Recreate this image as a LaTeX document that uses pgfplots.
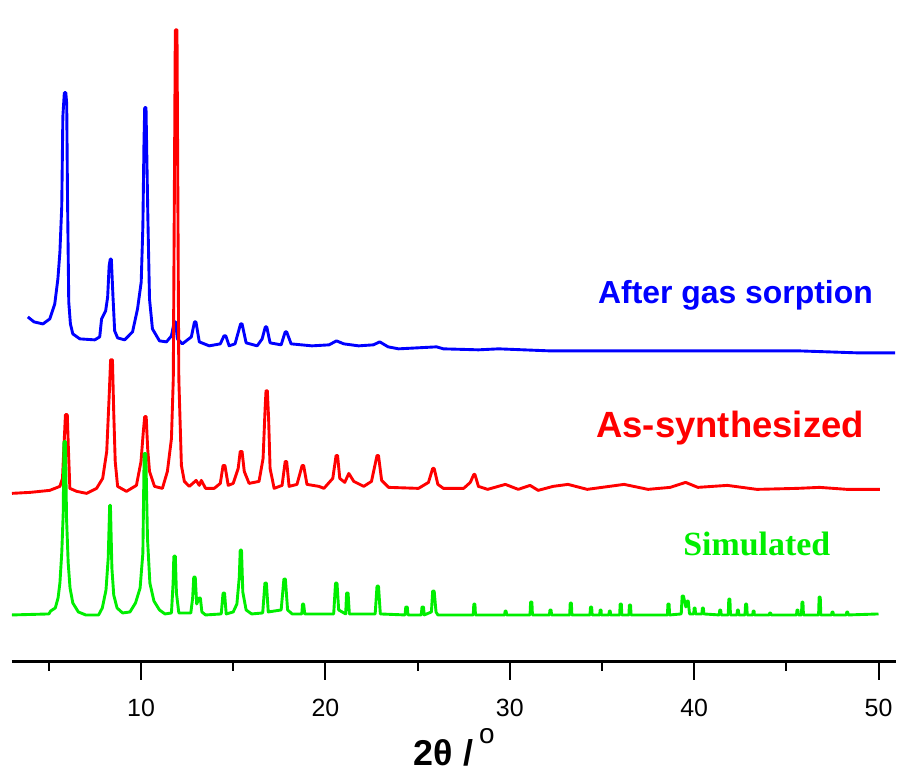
\documentclass[border=0pt]{standalone}
\usepackage{pgfplots}
\pgfplotsset{compat=1.18}
\usepackage{fontspec}
\setmainfont{Liberation Sans}
\newfontfamily\serifb{Liberation Serif}
\definecolor{cblue}{RGB}{0,0,255}
\definecolor{cred}{RGB}{255,0,0}
\definecolor{cgreen}{RGB}{0,238,0}
\begin{document}
\begin{tikzpicture}
\begin{axis}[
  scale only axis,
  width=443.5pt, height=332pt,
  xmin=3.0, xmax=50.95, ymin=0, ymax=664,
  axis x line=bottom, axis y line=none,
  axis line style={line width=1.3pt, -},
  x axis line style={-},
  xtick={10,20,30,40,50},
  minor xtick={5,15,25,35,45},
  tick align=outside,
  major tick length=9pt, minor tick length=4.5pt,
  every tick/.style={black, line width=1pt},
  tick style={black, line width=1pt},
  xticklabel style={font=\fontsize{12.5}{14}\selectfont, yshift=-6pt},
  /pgf/number format/assume math mode=true,
  clip=false,
  every axis plot/.append style={line width=1.45pt, line join=round},
]
% invisible bounding rectangle
\path (axis cs:2.351,-109) rectangle (axis cs:50.95,664);

% After gas sorption (blue)
\addplot[cblue, mark=none] coordinates {
(3.86,346) (4.2,341) (4.68,339) (5.05,344) (5.32,359) (5.49,384) (5.6,411) (5.7,457)
(5.76,547) (5.84,571) (5.92,571) (5.97,560) (6.01,471) (6.08,361) (6.17,339) (6.3,329)
(6.68,324) (7.49,323) (7.76,326) (7.86,344) (8.08,352) (8.19,366) (8.27,397) (8.33,404)
(8.39,404) (8.48,366) (8.57,332) (8.73,325) (9.11,323) (9.54,331) (9.81,354) (10.01,381)
(10.1,437) (10.16,521) (10.2,556) (10.27,556) (10.37,447) (10.46,364) (10.62,334) (11.0,322)
(11.38,321) (11.65,327) (11.8,341) (11.88,341) (11.97,324) (12.24,319) (12.73,326) (12.9,341)
(12.98,341) (13.16,321) (13.7,317) (14.3,319) (14.5,327) (14.6,327) (14.78,317) (15.1,319)
(15.4,339) (15.48,339) (15.7,320) (16.3,317) (16.57,324) (16.74,336) (16.82,336) (17.0,320)
(17.6,318) (17.82,331) (17.9,331) (18.14,319) (19.27,317) (20.2,318) (20.6,322) (21.0,319)
(21.8,317) (22.6,318) (22.95,321) (23.4,316) (23.97,314) (26.03,316) (26.4,314) (28.3,313)
(29.4,314) (32.1,312) (34.8,312) (40.2,312) (45.6,312) (48.8,310) (50.9,310)
};

% As-synthesized (red)
\addplot[cred, mark=none] coordinates {
(3.0,169) (4.0,170) (5.05,172) (5.6,176) (5.74,184) (5.84,224) (5.9,248) (6.0,248)
(6.06,214) (6.14,174) (6.51,171) (7.05,169) (7.59,174) (7.92,184) (8.14,211) (8.28,270)
(8.35,303) (8.45,303) (8.52,250) (8.6,201) (8.73,176) (9.21,171) (9.75,177) (10.0,201)
(10.12,230) (10.2,246) (10.28,246) (10.36,214) (10.46,191) (10.73,176) (11.16,174) (11.43,191)
(11.65,224) (11.75,284) (11.86,634) (11.95,634) (12.05,284) (12.19,197) (12.35,181) (12.62,176)
(12.99,182) (13.16,177) (13.27,182) (13.5,174) (13.97,174) (14.3,179) (14.45,197) (14.55,197)
(14.73,177) (15.0,179) (15.27,194) (15.38,211) (15.48,211) (15.6,191) (15.86,179) (16.4,181)
(16.62,204) (16.73,254) (16.78,272) (16.85,272) (16.92,244) (17.0,194) (17.22,174) (17.65,177)
(17.82,201) (17.9,201) (18.03,176) (18.46,178) (18.74,197) (18.82,197) (19.0,178) (19.65,176)
(19.92,174) (20.4,184) (20.58,207) (20.66,207) (20.78,184) (21.05,180) (21.27,189) (21.54,181)
(22.08,176) (22.5,181) (22.8,207) (22.88,207) (23.05,182) (23.43,175) (25.05,174) (25.59,180)
(25.82,194) (25.9,194) (26.1,178) (26.4,174) (27.5,174) (27.86,180) (28.05,188) (28.11,188)
(28.3,176) (28.8,173) (29.76,178) (30.46,173) (31.1,177) (31.54,172) (32.35,176) (33.16,178)
(34.2,173) (36.2,178) (37.5,173) (38.7,175) (39.54,180) (40.2,175) (41.8,177) (43.4,173)
(45.6,174) (46.8,175) (48.3,173) (50.08,173)
};

% Simulated (green)
\addplot[cgreen, mark=none] coordinates {
(3.0,47) (5.0,48) (5.1,51) (5.35,54) (5.5,64) (5.6,79) (5.7,109) (5.78,149)
(5.82,221) (5.9,221) (5.96,144) (6.05,99) (6.15,74) (6.3,59) (6.6,50) (7.0,47)
(7.7,47) (7.9,54) (8.1,72) (8.22,104) (8.3,157) (8.34,157) (8.42,94) (8.52,67)
(8.7,54) (9.0,49) (9.4,50) (9.7,59) (9.95,74) (10.1,109) (10.17,209) (10.26,209)
(10.35,124) (10.48,79) (10.7,61) (11.0,52) (11.3,48) (11.65,49) (11.74,79) (11.78,106)
(11.86,106) (11.92,69) (12.05,49) (12.7,49) (12.8,64) (12.86,85) (12.94,85) (13.02,58)
(13.15,64) (13.22,64) (13.3,50) (13.5,47) (14.35,48) (14.45,69) (14.53,69) (14.62,48)
(15.0,50) (15.2,58) (15.33,85) (15.38,112) (15.45,112) (15.52,70) (15.7,52) (16.0,48)
(16.6,49) (16.72,79) (16.8,79) (16.9,50) (17.6,52) (17.75,83) (17.83,83) (17.95,52)
(18.2,48) (18.72,48) (18.76,58) (18.82,58) (18.88,48) (20.45,48) (20.55,79) (20.63,79)
(20.72,52) (21.1,48) (21.15,69) (21.23,69) (21.3,48) (22.7,48) (22.8,76) (22.88,76)
(22.98,48) (24.32,47) (24.36,55) (24.44,55) (24.48,47) (25.2,47) (25.24,55) (25.32,55)
(25.36,47) (25.75,50) (25.82,71) (25.9,71) (26.0,50) (26.1,47) (28.02,47) (28.05,58)
(28.11,58) (28.14,47) (29.72,47) (29.75,51) (29.8,51) (29.83,47) (31.1,47) (31.13,60)
(31.2,60) (31.23,47) (32.15,47) (32.18,52) (32.24,52) (32.27,47) (33.25,47) (33.28,59)
(33.34,59) (33.37,47) (34.35,47) (34.38,55) (34.44,55) (34.47,47) (34.88,47) (34.9,52)
(34.95,52) (34.97,47) (35.38,47) (35.4,51) (35.45,51) (35.47,47) (35.96,47) (35.99,58)
(36.05,58) (36.08,47) (36.46,47) (36.49,57) (36.55,57) (36.58,47) (38.55,47) (38.58,58)
(38.64,58) (38.67,47) (39.3,48) (39.35,66) (39.42,66) (39.55,55) (39.62,61) (39.68,61)
(39.75,48) (39.98,48) (40.0,54) (40.05,54) (40.08,48) (40.42,48) (40.45,54) (40.5,54)
(40.53,48) (41.36,47) (41.39,52) (41.44,52) (41.47,47) (41.85,47) (41.88,63) (41.94,63)
(41.97,47) (42.32,47) (42.35,52) (42.4,52) (42.42,47) (42.76,47) (42.79,58) (42.85,58)
(42.88,47) (43.18,47) (43.2,51) (43.25,51) (43.27,47) (44.07,47) (44.1,49) (44.15,49)
(44.18,47) (45.55,47) (45.58,52) (45.63,52) (45.66,47) (45.82,47) (45.85,60) (45.9,60)
(45.93,47) (46.75,47) (46.78,65) (46.84,65) (46.87,47) (47.45,47) (47.48,50) (47.53,50)
(47.56,47) (48.25,47) (48.28,50) (48.33,50) (48.36,47) (50.0,48)
};

% series labels
\node[anchor=base, text=cblue, font=\bfseries\fontsize{16}{18}\selectfont]
  at (axis cs:42.24,359) {After gas sorption};
\node[anchor=base, text=cred, font=\bfseries\fontsize{18.3}{20}\selectfont]
  at (axis cs:41.95,225) {As-synthesized};
\node[anchor=base, text=cgreen, font=\serifb\bfseries\fontsize{17}{19}\selectfont]
  at (axis cs:43.4,107) {Simulated};
% x label
\node[anchor=base west, inner sep=0pt, font=\bfseries\fontsize{18}{20}\selectfont]
  at (axis cs:24.78,-104) {2θ /\,\raisebox{0.6em}{\normalfont\fontsize{14}{15}\selectfont o}};
\end{axis}
\end{tikzpicture}
\end{document}
